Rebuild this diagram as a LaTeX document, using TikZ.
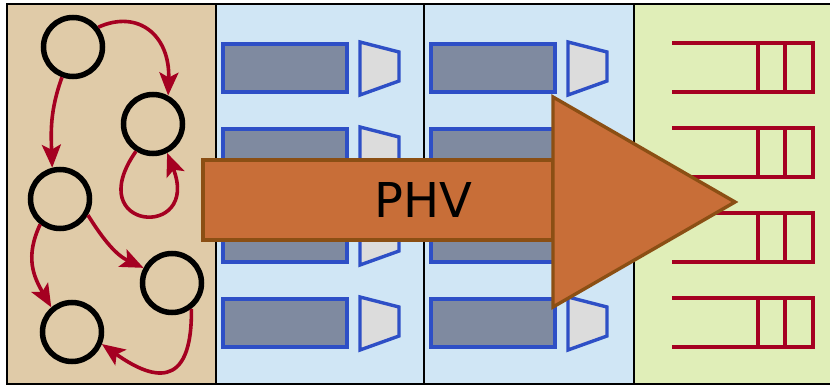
\documentclass[tikz,border=0pt]{standalone}
\usepackage{fontspec}
\setsansfont{DejaVu Sans}
\usetikzlibrary{arrows.meta}
\definecolor{graphtan}{HTML}{E0CBA8}
\definecolor{stageblue}{HTML}{D0E6F5}
\definecolor{queuegreen}{HTML}{E0EEB8}
\definecolor{unitblue}{HTML}{2E4FC6}
\definecolor{unitgray}{HTML}{7F8AA0}
\definecolor{portgray}{HTML}{DCDCDC}
\definecolor{linkred}{HTML}{A50021}
\definecolor{phvorange}{HTML}{C86E38}
\definecolor{phvbrown}{HTML}{8B4F14}

\begin{document}
\begin{tikzpicture}[
  x=1pt,y=-1pt,
  >={Stealth[length=23pt,width=19pt,inset=5pt]},
  panel/.style={draw=black,line width=2pt},
  state/.style={circle,draw=black,line width=5.5pt,minimum size=59pt,inner sep=0pt},
  trans/.style={draw=linkred,line width=3.6pt,->},
  buffer/.style={draw=unitblue,fill=unitgray,line width=3.6pt},
  port/.style={draw=unitblue,fill=portgray,line width=3.4pt,line join=miter},
  queue/.style={draw=linkred,line width=3.4pt},
  phv/.style={draw=phvbrown,fill=phvorange,line width=3.4pt,line join=miter}
]
  \useasboundingbox (0,0) rectangle (830,385);
  \fill[white] (0,0) rectangle (830,385);

  \draw[panel,fill=graphtan] (7,4) rectangle (216,384);
  \draw[panel,fill=stageblue] (216,4) rectangle (424,384);
  \draw[panel,fill=stageblue] (424,4) rectangle (634,384);
  \draw[panel,fill=queuegreen] (634,4) rectangle (834,384);

  \node[state] (s1) at (73,47) {};
  \node[state] (s2) at (153,124) {};
  \node[state] (s3) at (60,199) {};
  \node[state] (s4) at (172,283) {};
  \node[state] (s5) at (72,332) {};

  \draw[trans] (s1.38) .. controls +(40,-18) and +(2,-60) .. (s2.62);
  \draw[trans] (s1.250) to[out=250,in=92] (s3.104);
  \draw[trans] (s2.238) .. controls +(-56,80) and +(34,87) .. (s2.296);
  \draw[trans] (s3.232) to[out=245,in=120,looseness=1.1] (s5.130);
  \draw[trans] (s3.330) to[out=-58,in=155] (s4.152);
  \draw[trans] (s4.307) .. controls +(1,85) and +(48,34) .. (s5.338);

  \foreach \x in {223,431}
    \foreach \y in {44,129,214,299} {
      \draw[buffer] (\x,\y) rectangle ++(124,48);
      \draw[port] (\x+137,\y-2) -- ++(39,10) -- ++(0,29) -- ++(-39,14) -- cycle;
    }

  \foreach \y in {43,128,213,298} {
    \draw[queue] (672,\y) -- (813,\y) -- (813,\y+49) -- (672,\y+49);
    \draw[queue] (758,\y) -- (758,\y+49) (785,\y) -- (785,\y+49);
  }

  \draw[phv] (203,160) rectangle (553,240);
  \draw[phv] (553,97) -- (735,202) -- (553,307) -- cycle;
  \node[font=\sffamily\fontsize{48}{56}\selectfont] (label) at (423,200) {PHV};
\end{tikzpicture}
\end{document}
